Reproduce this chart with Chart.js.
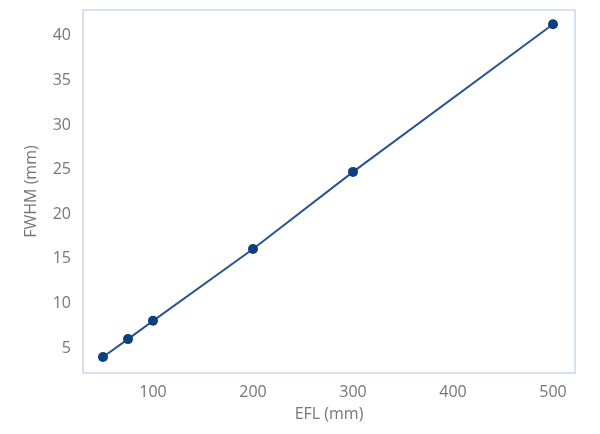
<!DOCTYPE html>
<html>
<head>
<meta charset="utf-8">
<script src="https://cdn.jsdelivr.net/npm/chart.js@4"></script>
<style>
  html, body { margin: 0; padding: 0; background: #fff; }
  #wrap { width: 600px; height: 434px; }
</style>
</head>
<body>
<div id="wrap"><canvas id="c" width="600" height="434"></canvas></div>
<script>
// EFL (mm) vs FWHM (mm)
let efl = [50, 75, 100, 200, 300, 500]
let fwhm = [4.0, 6.0, 8.05, 16.1, 24.75, 41.3]
let xTicks = [100, 200, 300, 400, 500]
let yTicks = [5, 10, 15, 20, 25, 30, 35, 40]

let points = efl.map((v, i) => ({ x: v, y: fwhm[i] }))

// light blue box around the plot area
let boxPlugin = {
   id: 'box',
   afterDraw: (chart) => {
      let a = chart.chartArea
      let ctx = chart.ctx
      ctx.save()
      ctx.strokeStyle = '#c7d8ef'
      ctx.lineWidth = 1.5
      ctx.strokeRect(a.left, a.top, a.right - a.left, a.bottom - a.top)
      ctx.restore()
   }
}

const ctx = document.getElementById('c').getContext('2d')
const myChart = new Chart(ctx, {
   type: 'line',
   data: {
      datasets: [{
         data: points,
         borderColor: '#2c5494',
         borderWidth: 2,
         pointRadius: 5,
         pointBackgroundColor: '#0b3f7f',
         pointBorderColor: '#0b3f7f',
         pointBorderWidth: 0,
         tension: 0
      }]
   },
   plugins: [boxPlugin],
   options: {
      responsive: false,
      animation: false,
      layout: { padding: { top: 10, right: 25, bottom: 0, left: 0 } },
      plugins: { legend: { display: false }, tooltip: { enabled: false } },
      scales: {
         x: {
            type: 'linear',
            min: 30,
            max: 522,
            grid: { display: false, drawTicks: false },
            border: { display: false },
            afterBuildTicks: (s) => { s.ticks = xTicks.map(v => ({ value: v })) },
            afterFit: (s) => { s.height = 61 },
            ticks: {
               padding: 10,
               color: '#767676',
               font: { family: 'Open Sans', size: 16 }
            },
            title: {
               display: true,
               text: 'EFL (mm)',
               color: '#767676',
               font: { family: 'Open Sans', size: 16 },
               padding: { top: 0, bottom: 10 }
            }
         },
         y: {
            min: 2.2,
            max: 42.9,
            grid: { display: false, drawTicks: false },
            border: { display: false },
            afterBuildTicks: (s) => { s.ticks = yTicks.map(v => ({ value: v })) },
            afterFit: (s) => {
               s.width = 83
               s.paddingTop = 0
               s.paddingBottom = 0
            },
            ticks: {
               padding: 12,
               color: '#767676',
               font: { family: 'Open Sans', size: 16 }
            },
            title: {
               display: true,
               text: 'FWHM (mm)',
               color: '#767676',
               font: { family: 'Open Sans', size: 16 },
               padding: { top: 22, bottom: 0 }
            }
         }
      }
   }
})
</script>
</body>
</html>
